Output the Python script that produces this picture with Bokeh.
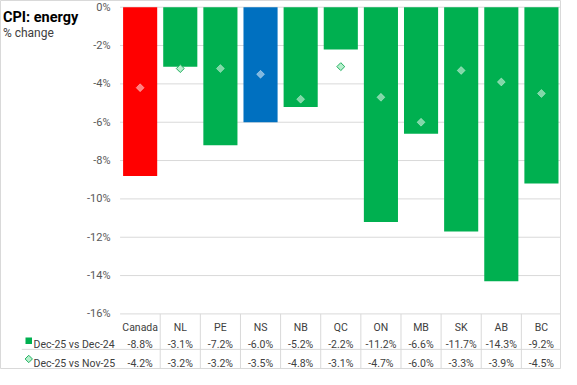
import math
from bokeh.plotting import figure
from bokeh.models import Range1d, ColumnDataSource
from bokeh.core.properties import value
from bokeh.embed import file_html
from bokeh.resources import INLINE

# ---------------- data ----------------
categories = ["Canada", "NL", "PE", "NS", "NB", "QC", "ON", "MB", "SK", "AB", "BC"]
dec_vs_dec = [-8.8, -3.1, -7.2, -6.0, -5.2, -2.2, -11.2, -6.6, -11.7, -14.3, -9.2]
dec_vs_nov = [-4.2, -3.2, -3.2, -3.5, -4.8, -3.1, -4.7, -6.0, -3.3, -3.9, -4.5]
series_names = ["Dec-25 vs Dec-24", "Dec-25 vs Nov-25"]
y_ticks = [0, -2, -4, -6, -8, -10, -12, -14, -16]
y_tick_labels = ["0%", "-2%", "-4%", "-6%", "-8%", "-10%", "-12%", "-14%", "-16%"]
title_text = "CPI: energy"
subtitle_text = "% change"

# ---------------- styles ----------------
GREEN = "#00b050"
RED = "#ff0000"
BLUE = "#0070c0"
GRID = "#d9d9d9"
FONT = "Roboto"
highlight = {"Canada": RED, "NS": BLUE}

W, H = 561, 369
n = len(categories)
xc = [i + 0.5 for i in range(n)]

p = figure(width=W, height=H, x_range=Range1d(-2.98, n), y_range=Range1d(-18.9, 0.35),
           output_backend="svg", toolbar_location=None, min_border=0,
           x_axis_location=None, y_axis_location=None)
p.grid.visible = False
p.outline_line_color = GRID
p.background_fill_color = "white"
p.border_fill_color = "white"

# gridlines
p.segment(x0=[0] * len(y_ticks), x1=[n] * len(y_ticks), y0=y_ticks, y1=y_ticks,
          line_color=GRID, line_width=1)

# y tick labels
p.text(x=[-0.24] * len(y_ticks), y=y_ticks, text=y_tick_labels,
       text_font=value(FONT), text_font_size=value("11px"), text_color="#595959",
       text_align="right", text_baseline="middle")

# bars
bar_colors = [highlight.get(c, GREEN) for c in categories]
bsrc = ColumnDataSource(dict(x=xc, top=[0] * n, bottom=dec_vs_dec, color=bar_colors))
p.vbar(x="x", width=0.85, top="top", bottom="bottom", fill_color="color",
       line_color=None, source=bsrc)

# diamonds
inside = [nv >= dv for nv, dv in zip(dec_vs_nov, dec_vs_dec)]
m_fill = ["rgba(255,255,255,0.5)" if ins else "#b6f0cd" for ins in inside]
m_line = ["rgba(255,255,255,0.35)" if ins else "#22b060" for ins in inside]
msrc = ColumnDataSource(dict(x=xc, y=dec_vs_nov, fill=m_fill, line=m_line))
p.scatter(x="x", y="y", marker="square", angle=math.pi / 4, size=5.6,
          fill_color="fill", line_color="line", line_width=1, source=msrc)

# title / subtitle
p.text(x=[-2.92], y=[-0.535], text=[title_text], text_font=value(FONT),
       text_font_size=value("14.5px"), text_font_style="bold", text_color="#000000",
       text_baseline="alphabetic")
p.text(x=[-2.92], y=[-1.35], text=[subtitle_text], text_font=value(FONT),
       text_font_size=value("12px"), text_color="#404040", text_baseline="alphabetic")

# data table
TFS = value("10.5px")
p.text(x=xc, y=[-16.7] * n, text=categories, text_font=value(FONT), text_font_size=TFS,
       text_color="#404040", text_align="center", text_baseline="alphabetic")
p.text(x=xc, y=[-17.6] * n, text=[f"{v:.1f}%" for v in dec_vs_dec], text_font=value(FONT),
       text_font_size=TFS, text_color="#404040", text_align="center", text_baseline="alphabetic")
p.text(x=xc, y=[-18.575] * n, text=[f"{v:.1f}%" for v in dec_vs_nov], text_font=value(FONT),
       text_font_size=TFS, text_color="#404040", text_align="center", text_baseline="alphabetic")
p.text(x=[-2.155, -2.155], y=[-17.6, -18.575], text=series_names, text_font=value(FONT),
       text_font_size=TFS, text_color="#404040", text_align="left", text_baseline="alphabetic")

# table lines
p.segment(x0=list(range(1, n)), x1=list(range(1, n)), y0=[-16] * (n - 1), y1=[-18.9] * (n - 1),
          line_color=GRID, line_width=1)
p.segment(x0=[-2.45], x1=[n], y0=[-17.85], y1=[-17.85], line_color=GRID, line_width=1)

# legend keys
p.scatter(x=[-2.276], y=[-17.4], marker="square", size=6.5, fill_color=GREEN, line_color=None)
p.scatter(x=[-2.276], y=[-18.35], marker="square", angle=math.pi / 4, size=5.2,
          fill_color="#b6f0cd", line_color="#22b060", line_width=1)

open("out.html", "w").write(file_html(p, INLINE))
